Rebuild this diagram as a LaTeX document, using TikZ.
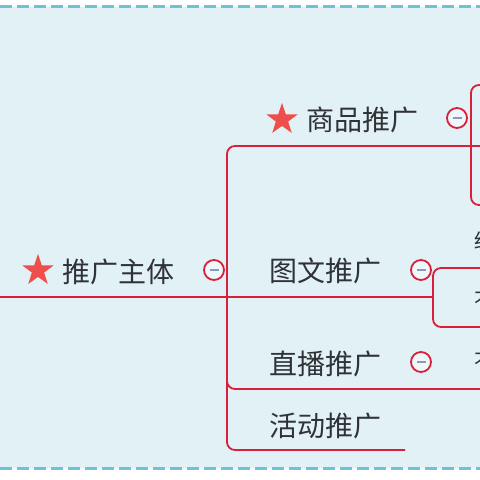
\documentclass[tikz,border=0pt]{standalone}
\usepackage{fontspec}
\newfontfamily\cjk{Noto Sans CJK SC}
\usetikzlibrary{shapes.geometric}
\definecolor{bgcol}{HTML}{E2F1F6}
\definecolor{dashcol}{HTML}{6EC2D4}
\definecolor{linecol}{HTML}{D8203A}
\definecolor{starcol}{HTML}{EE4F4C}
\definecolor{txtcol}{HTML}{2F3236}
\definecolor{minuscol}{HTML}{8C9AB8}
\tikzset{
  conn/.style={draw=linecol, line width=1.8pt, rounded corners=8pt},
  lbl/.style={anchor=west, inner sep=0pt, text=txtcol, font=\cjk\fontsize{28}{28}\selectfont},
  partial/.style={anchor=west, inner sep=0pt, text=txtcol, font=\cjk\fontsize{20}{20}\selectfont},
  starmark/.style={star, star points=5, star point ratio=2.55, minimum size=33pt, inner sep=0pt, fill=starcol, draw=none},
  collapse/.style={circle, draw=linecol, line width=1.8pt, fill=white!40!bgcol, minimum size=20pt, inner sep=0pt,
    path picture={\draw[minuscol, line width=1.6pt] ([xshift=-4.5pt]path picture bounding box.center) -- ([xshift=4.5pt]path picture bounding box.center);}},
  border/.style={draw=dashcol, line width=3pt, dash pattern=on 12pt off 5pt}
}
\begin{document}
\begin{tikzpicture}[x=1pt,y=-1pt]
\useasboundingbox (0,0) rectangle (480,480);
\clip (0,0) rectangle (480,480);
\fill[white] (0,0) rectangle (480,480);
\fill[bgcol] (0,6.5) rectangle (480,468);
\draw[border] (0,6.5) -- (480,6.5);
\draw[border] (0,468) -- (480,468);

% coordinates for connectors
\coordinate (rootL) at (0,297);
\coordinate (spine) at (227,297);
\coordinate (twEnd) at (433,297);
\coordinate (spTop) at (227,146);
\coordinate (spBot) at (227,450);
\coordinate (hdEnd) at (405,450);
\coordinate (spMid) at (227,389);
\coordinate (zbEnd) at (480,389);
\coordinate (spPre) at (227,370);
\coordinate (spEnd) at (480,146);
\coordinate (bA1) at (480,268);
\coordinate (bA2) at (433,268);
\coordinate (bA3) at (433,327);
\coordinate (bA4) at (480,327);
\coordinate (bB1) at (480,85);
\coordinate (bB2) at (471,85);
\coordinate (bB3) at (471,205);
\coordinate (bB4) at (480,205);

% connectors
\draw[conn] (rootL) -- (twEnd);
\draw[conn] (bA1) -- (bA2) -- (bA3) -- (bA4);
\draw[conn] (spEnd) -- (spTop) -- (spBot) -- (hdEnd);
\draw[conn] (spPre) -- (spMid) -- (zbEnd);
\draw[conn] (bB1) -- (bB2) -- (bB3) -- (bB4);

% stars
\node[starmark] (star1) at (38,270.5) {};
\node[starmark] (star2) at (282,119.5) {};

% labels
\node[lbl] (root) at (62,272) {推广主体};
\node[lbl] (sp) at (306,120) {商品推广};
\node[lbl] (tw) at (269,271) {图文推广};
\node[lbl] (zb) at (269,364) {直播推广};
\node[lbl] (hd) at (269,426) {活动推广};

% partial labels at the right edge (cut off in the reference too)
\node[partial] (p1) at (474.5,241) {结};
\node[partial] (p2) at (474.5,301) {不};
\node[partial] (p3) at (474.5,362) {不};

% collapse buttons
\node[collapse] (c1) at (214,270) {};
\node[collapse] (c2) at (421,270) {};
\node[collapse] (c3) at (457,118) {};
\node[collapse] (c4) at (421,362) {};
\end{tikzpicture}
\end{document}
